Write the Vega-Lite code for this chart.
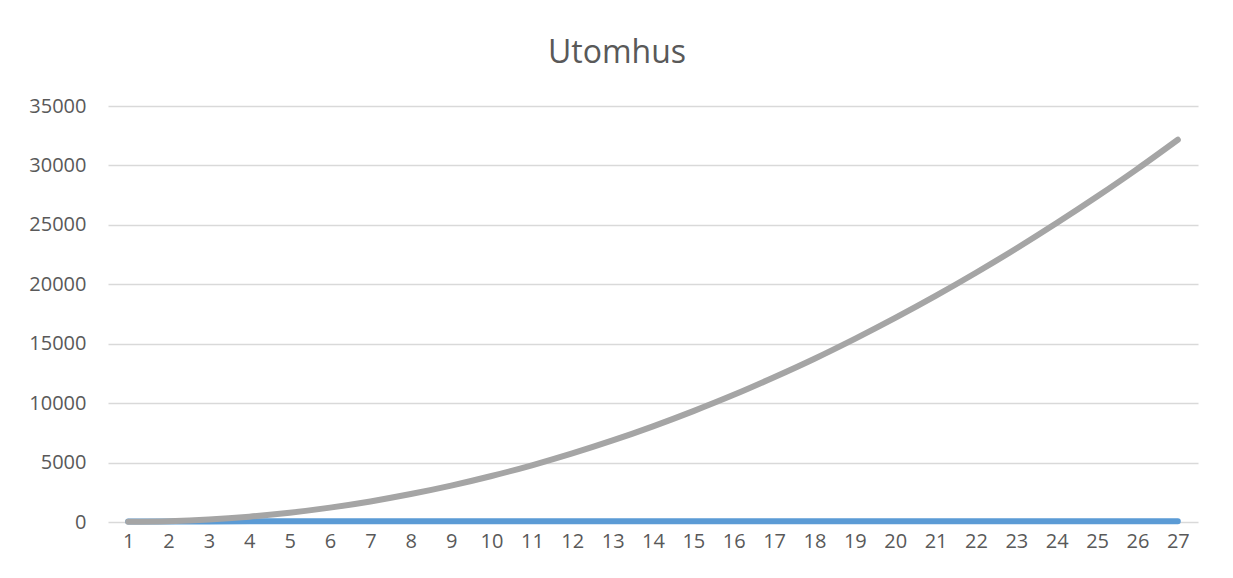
{
  "$schema": "https://vega.github.io/schema/vega-lite/v6.json",
  "width": 1090,
  "height": 416,
  "autosize": "none",
  "padding": {"left": 108, "top": 106, "right": 35, "bottom": 56},
  "background": "white",
  "title": {
    "text": "Utomhus",
    "fontSize": 32,
    "font": "Open Sans",
    "fontWeight": "normal",
    "color": "#595959",
    "anchor": "middle",
    "dx": -36,
    "offset": 26
  },
  "data": {
    "values": [
      {"x": 1, "serie": "A", "value": 50}, {"x": 2, "serie": "A", "value": 50}, {"x": 3, "serie": "A", "value": 50},
      {"x": 4, "serie": "A", "value": 55}, {"x": 5, "serie": "A", "value": 55}, {"x": 6, "serie": "A", "value": 55},
      {"x": 7, "serie": "A", "value": 55}, {"x": 8, "serie": "A", "value": 60}, {"x": 9, "serie": "A", "value": 60},
      {"x": 10, "serie": "A", "value": 60}, {"x": 11, "serie": "A", "value": 60}, {"x": 12, "serie": "A", "value": 60},
      {"x": 13, "serie": "A", "value": 65}, {"x": 14, "serie": "A", "value": 65}, {"x": 15, "serie": "A", "value": 65},
      {"x": 16, "serie": "A", "value": 65}, {"x": 17, "serie": "A", "value": 65}, {"x": 18, "serie": "A", "value": 65},
      {"x": 19, "serie": "A", "value": 65}, {"x": 20, "serie": "A", "value": 65}, {"x": 21, "serie": "A", "value": 65},
      {"x": 22, "serie": "A", "value": 65}, {"x": 23, "serie": "A", "value": 65}, {"x": 24, "serie": "A", "value": 65},
      {"x": 25, "serie": "A", "value": 65}, {"x": 26, "serie": "A", "value": 65}, {"x": 27, "serie": "A", "value": 65},
      {"x": 1, "serie": "B", "value": 20}, {"x": 2, "serie": "B", "value": 70}, {"x": 3, "serie": "B", "value": 210},
      {"x": 4, "serie": "B", "value": 450}, {"x": 5, "serie": "B", "value": 780}, {"x": 6, "serie": "B", "value": 1210},
      {"x": 7, "serie": "B", "value": 1730}, {"x": 8, "serie": "B", "value": 2350}, {"x": 9, "serie": "B", "value": 3060},
      {"x": 10, "serie": "B", "value": 3870}, {"x": 11, "serie": "B", "value": 4770}, {"x": 12, "serie": "B", "value": 5770},
      {"x": 13, "serie": "B", "value": 6860}, {"x": 14, "serie": "B", "value": 8050}, {"x": 15, "serie": "B", "value": 9330},
      {"x": 16, "serie": "B", "value": 10700}, {"x": 17, "serie": "B", "value": 12180}, {"x": 18, "serie": "B", "value": 13740},
      {"x": 19, "serie": "B", "value": 15410}, {"x": 20, "serie": "B", "value": 17170}, {"x": 21, "serie": "B", "value": 19020},
      {"x": 22, "serie": "B", "value": 20970}, {"x": 23, "serie": "B", "value": 23010}, {"x": 24, "serie": "B", "value": 25150},
      {"x": 25, "serie": "B", "value": 27380}, {"x": 26, "serie": "B", "value": 29710}, {"x": 27, "serie": "B", "value": 32160}
    ]
  },
  "encoding": {
    "x": {
      "field": "x",
      "type": "ordinal",
      "sort": null,
      "scale": {"type": "point", "padding": 0.5},
      "axis": {
        "title": null,
        "labelAngle": 0,
        "labelFont": "Open Sans",
        "labelFontSize": 20,
        "labelColor": "#595959",
        "labelPadding": 9,
        "ticks": false,
        "domain": false,
        "grid": false
      }
    },
    "y": {
      "field": "value",
      "type": "quantitative",
      "scale": {"domain": [0, 35000], "nice": false},
      "axis": {
        "title": null,
        "values": [0, 5000, 10000, 15000, 20000, 25000, 30000, 35000],
        "format": "d",
        "labelFont": "Open Sans",
        "labelFontSize": 20,
        "labelColor": "#595959",
        "labelPadding": 22,
        "ticks": false,
        "domain": false,
        "grid": true,
        "gridColor": "#d9d9d9",
        "gridWidth": 1.3
      }
    }
  },
  "layer": [
    {
      "transform": [{"filter": "datum.serie === 'A'"}],
      "mark": {"type": "line", "color": "#5b9bd5", "strokeWidth": 6, "strokeCap": "round", "interpolate": "monotone"}
    },
    {
      "transform": [{"filter": "datum.serie === 'B'"}],
      "mark": {"type": "line", "color": "#a5a5a5", "strokeWidth": 6, "strokeCap": "round", "interpolate": "monotone"}
    }
  ],
  "config": {"view": {"stroke": null}}
}
